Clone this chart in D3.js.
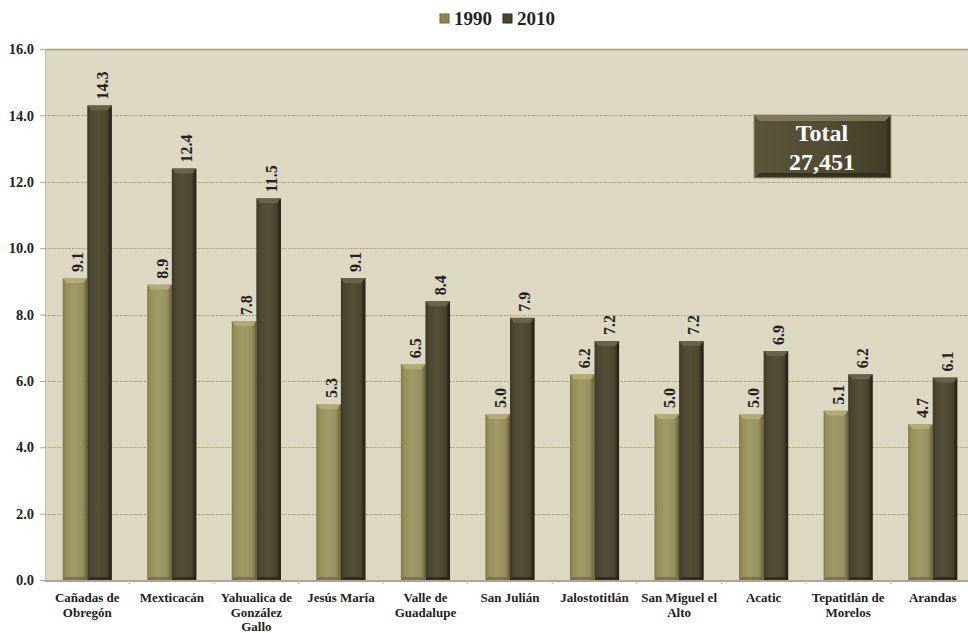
<!DOCTYPE html>
<html>
<head>
<meta charset="utf-8">
<script src="https://cdnjs.cloudflare.com/ajax/libs/d3/7.8.5/d3.min.js"></script>
<style>
  html, body { margin: 0; padding: 0; background: #ffffff; }
  svg { display: block; }
  text { font-family: "Liberation Serif", "Times New Roman", serif; font-weight: bold; }
</style>
</head>
<body>
<svg id="chart" width="968" height="633"></svg>
<script>
// Municipalities (label lines) and percentages for each census year
const categories = [
  ["Cañadas de", "Obregón"],
  ["Mexticacán"],
  ["Yahualica de", "González", "Gallo"],
  ["Jesús María"],
  ["Valle de", "Guadalupe"],
  ["San Julián"],
  ["Jalostotitlán"],
  ["San Miguel el", "Alto"],
  ["Acatic"],
  ["Tepatitlán de", "Morelos"],
  ["Arandas"]
];
const seriesNames = ["1990", "2010"];
const values1990 = [9.1, 8.9, 7.8, 5.3, 6.5, 5.0, 6.2, 5.0, 5.0, 5.1, 4.7];
const values2010 = [14.3, 12.4, 11.5, 9.1, 8.4, 7.9, 7.2, 7.2, 6.9, 6.2, 6.1];
const yTicks = [0, 2, 4, 6, 8, 10, 12, 14, 16];
const totalLines = ["Total", "27,451"];

const svg = d3.select("#chart");
const plotLeft = 45, plotRight = 975, plotTop = 49, plotBottom = 580;

const keys = categories.map(c => c.join(" "));
const x0 = d3.scaleBand().domain(keys).range([plotLeft, plotRight]).paddingInner(0).paddingOuter(0);
const x1 = d3.scaleBand().domain(seriesNames).range([0, x0.bandwidth()]).paddingInner(0.0).paddingOuter(0.72);
const y = d3.scaleLinear().domain([0, 16]).range([plotBottom, plotTop]);

// Gradients giving the bars their bevelled look
const defs = svg.append("defs");
function hGrad(id, stops) {
  const g = defs.append("linearGradient").attr("id", id).attr("x1", "0").attr("x2", "1").attr("y1", "0").attr("y2", "0");
  stops.forEach(s => g.append("stop").attr("offset", s[0]).attr("stop-color", s[1]));
}
hGrad("g1990", [[0, "#7f7849"], [0.12, "#958d5a"], [0.45, "#a39b66"], [0.8, "#979060"], [0.93, "#7a7446"], [1, "#5e5935"]]);
hGrad("g2010", [[0, "#3a3622"], [0.12, "#4a4530"], [0.45, "#544f37"], [0.8, "#4a4530"], [0.92, "#2e2b1b"], [1, "#1c1a10"]]);
hGrad("gBox", [[0, "#5a5538"], [0.5, "#524d33"], [0.95, "#433f28"], [1, "#2a2818"]]);

// Plot background
svg.append("rect").attr("x", plotLeft).attr("y", plotTop).attr("width", plotRight - plotLeft).attr("height", plotBottom - plotTop)
  .attr("fill", "#ddd8c2");
svg.append("line").attr("x1", plotLeft).attr("x2", plotRight).attr("y1", plotTop + 0.5).attr("y2", plotTop + 0.5)
  .attr("stroke", "#a39e70").attr("stroke-width", 1.5);
svg.append("line").attr("x1", plotLeft + 0.5).attr("x2", plotLeft + 0.5).attr("y1", plotTop).attr("y2", plotBottom)
  .attr("stroke", "#c9c4a8").attr("stroke-width", 1);

// Dotted gridlines
svg.append("g").selectAll("line").data(yTicks.filter(t => t > 0 && t < 16)).join("line")
  .attr("x1", plotLeft).attr("x2", plotRight)
  .attr("y1", d => Math.round(y(d)) + 0.5).attr("y2", d => Math.round(y(d)) + 0.5)
  .attr("stroke", "#9c966a").attr("stroke-width", 1).attr("stroke-dasharray", "1.5,1.5");

// Y axis
const yAxis = d3.axisLeft(y).tickValues(yTicks).tickFormat(d3.format(".1f")).tickSize(5).tickPadding(6);
const yg = svg.append("g").attr("transform", `translate(${plotLeft},0)`).call(yAxis);
yg.select(".domain").remove();
yg.selectAll(".tick line").attr("stroke", "#a8a8a8");
yg.selectAll(".tick text").attr("font-size", 14.5).attr("fill", "#222");

// Bars
const data = categories.map((c, i) => ({ key: keys[i], lines: c, v: { "1990": values1990[i], "2010": values2010[i] } }));
const groups = svg.append("g").selectAll("g").data(data).join("g")
  .attr("transform", d => `translate(${x0(d.key)},0)`);

seriesNames.forEach(s => {
  const bw = x1.bandwidth();
  groups.append("rect")
    .attr("x", x1(s)).attr("width", bw)
    .attr("y", d => y(d.v[s])).attr("height", d => y(0) - y(d.v[s]))
    .attr("fill", `url(#g${s})`);
  // top bevel highlight
  groups.append("path")
    .attr("d", d => {
      const x = x1(s), t = y(d.v[s]);
      return `M${x},${t}L${x + bw},${t}L${x + bw - 4},${t + 5}L${x + 4},${t + 5}Z`;
    })
    .attr("fill", s === "1990" ? "#b8b07c" : "#6e6a52").attr("opacity", 0.8);
  // bottom bevel shade
  groups.append("path")
    .attr("d", d => {
      const x = x1(s), b = y(0);
      return `M${x},${b}L${x + bw},${b}L${x + bw - 3},${b - 3}L${x + 3},${b - 3}Z`;
    })
    .attr("fill", s === "1990" ? "#6c673e" : "#24221a").attr("opacity", 0.7);
  // value labels, rotated
  groups.append("text")
    .attr("transform", d => `translate(${x1(s) + bw / 2 + 8},${y(d.v[s]) - 6}) rotate(-90)`)
    .attr("text-anchor", "start").attr("font-size", 16).attr("fill", "#222")
    .text(d => d.v[s].toFixed(1));
});

// X axis line and ticks
svg.append("line").attr("x1", plotLeft).attr("x2", plotRight).attr("y1", plotBottom + 1).attr("y2", plotBottom + 1)
  .attr("stroke", "#a9a796").attr("stroke-width", 2);
svg.append("g").selectAll("line").data(keys.slice(1).concat(["end"])).join("line")
  .attr("x1", d => d === "end" ? plotRight : x0(d)).attr("x2", d => d === "end" ? plotRight : x0(d))
  .attr("y1", plotBottom + 1).attr("y2", plotBottom + 4).attr("stroke", "#c0c0c0");

// Category labels
const labels = svg.append("g").selectAll("text").data(data).join("text")
  .attr("text-anchor", "middle").attr("font-size", 13).attr("fill", "#222");
labels.each(function(d) {
  const t = d3.select(this);
  d.lines.forEach((ln, j) => {
    t.append("tspan").attr("x", x0(d.key) + x0.bandwidth() / 2).attr("y", 602 + j * 14.5).text(ln);
  });
});

// Legend
const legend = svg.append("g").attr("transform", "translate(440,19)");
const legX = [0, 63];
seriesNames.forEach((s, i) => {
  legend.append("rect").attr("x", legX[i]).attr("y", -5).attr("width", 9).attr("height", 9)
    .attr("fill", s === "1990" ? "#8f8852" : "#4a4530").attr("stroke", s === "1990" ? "#6e6940" : "#2a2818").attr("stroke-width", 1);
  legend.append("text").attr("x", legX[i] + 14).attr("y", 6).attr("font-size", 19).attr("fill", "#222").text(s);
});

// Total box
const box = svg.append("g").attr("transform", "translate(754,115)");
box.append("rect").attr("width", 137).attr("height", 63).attr("fill", "url(#gBox)")
  .attr("stroke", "#9a9575").attr("stroke-width", 1);
box.append("path").attr("d", "M1,1L136,1L131,6L6,6Z").attr("fill", "#8a8466").attr("opacity", 0.8);
box.append("path").attr("d", "M1,62L136,62L131,58L6,58Z").attr("fill", "#2e2b1b").attr("opacity", 0.8);
box.selectAll("text.t").data(totalLines).join("text")
  .attr("x", 68).attr("y", (d, i) => 26 + i * 29).attr("text-anchor", "middle")
  .attr("font-size", 24).attr("fill", "#ffffff").text(d => d);
</script>
</body>
</html>
